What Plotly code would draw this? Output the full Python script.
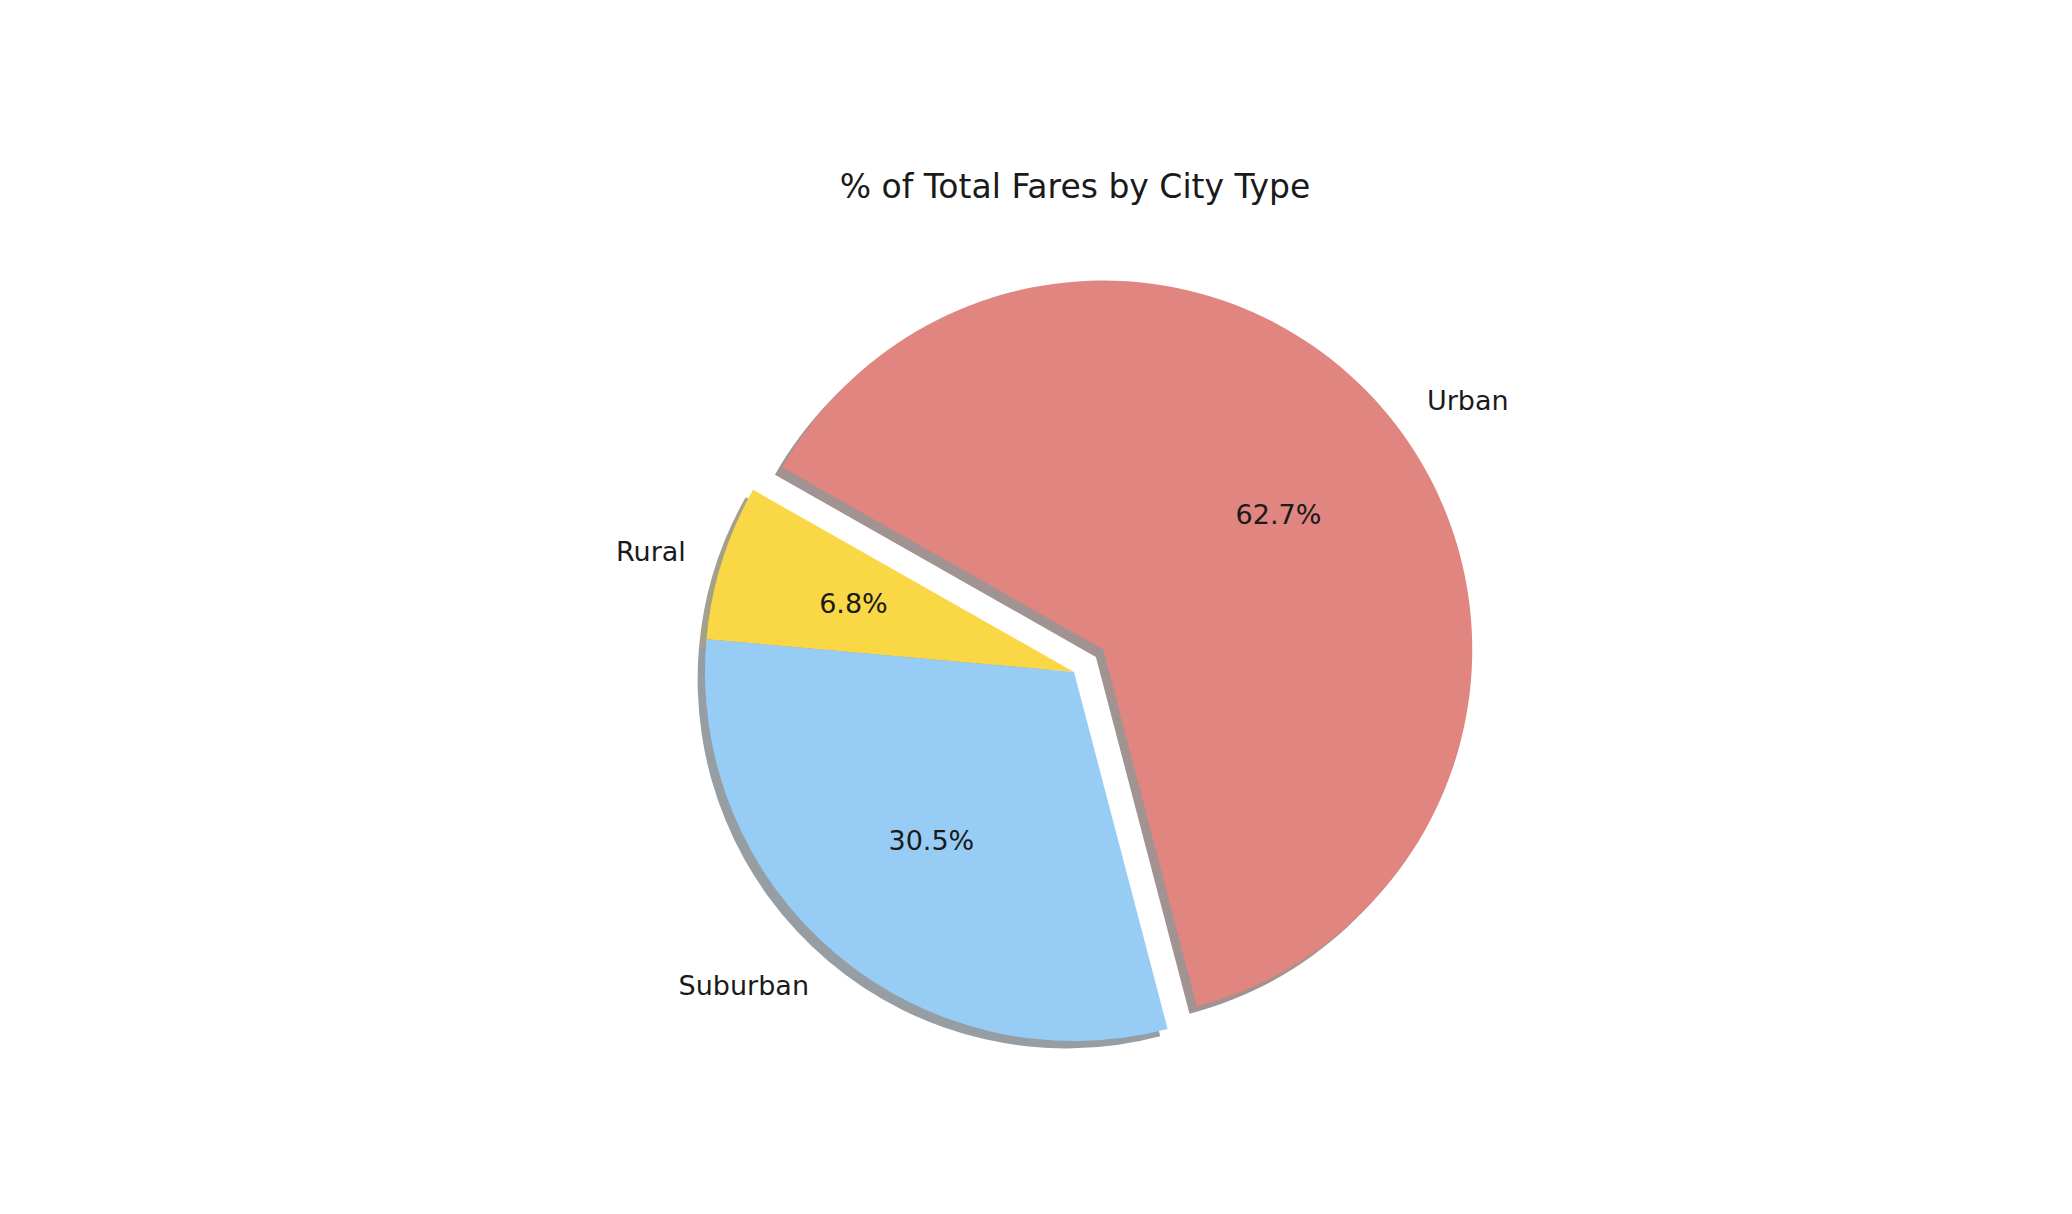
import plotly.graph_objects as go

city_types = ["Rural", "Suburban", "Urban"]
fare_pct = [6.8, 30.5, 62.7]
slice_colors = ["#F9D745", "#97CDF5", "#E08580"]
shadow_colors = ["rgba(75,65,21,0.5)", "rgba(45,62,74,0.5)", "rgba(67,40,38,0.5)"]
explode = [0, 0, 0.1]
rot = -84.9

W, H = 2072, 1214
cx, cy, r = 1066, 664, 369


def domain(radius, dx=0.0, dy=0.0):
    p = max(explode) * r / radius
    half = radius * (1 + p)
    return dict(x=[(cx + dx - half) / W, (cx + dx + half) / W],
                y=[1 - (cy + dy + half) / H, 1 - (cy + dy - half) / H])


def pulls(radius):
    return [e * r / radius for e in explode]


common = dict(labels=city_types, values=fare_pct, sort=False,
              direction="counterclockwise", rotation=rot, showlegend=False)
font = dict(family="DejaVu Sans", size=27, color="#1a1a1a")
clear = dict(colors=["rgba(0,0,0,0)"] * 3, line=dict(width=0))

fig = go.Figure()
# shadow
off = 0.02 * r
fig.add_trace(go.Pie(**common, pull=pulls(r),
                     marker=dict(colors=shadow_colors, line=dict(width=0)),
                     textinfo="none", hoverinfo="skip",
                     domain=domain(r, -off, off)))
# wedges
fig.add_trace(go.Pie(**common, pull=pulls(r),
                     marker=dict(colors=slice_colors, line=dict(width=0)),
                     textinfo="none", hovertemplate="%{label}: %{percent:.1%}<extra></extra>",
                     domain=domain(r)))
# category labels
rl = 1.08 * r
fig.add_trace(go.Pie(**common, pull=pulls(rl), marker=clear,
                     textinfo="label", textposition="outside", textfont=font,
                     hoverinfo="skip", domain=domain(rl)))
# percentage labels (centred at 0.6 r on a transparent ring)
rp_out, rp_in = 280, 162
fig.add_trace(go.Pie(**common, pull=pulls(rp_out), marker=clear, hole=rp_in / rp_out,
                     texttemplate="%{percent:.1%}", textposition="inside",
                     insidetextorientation="horizontal", textfont=font,
                     hoverinfo="skip", domain=domain(rp_out)))

fig.update_layout(
    width=W, height=H,
    margin=dict(l=0, r=0, t=0, b=0),
    paper_bgcolor="white", plot_bgcolor="white",
    title=dict(text="% of Total Fares by City Type", x=1067 / W, xanchor="center",
               y=1 - 178 / H, yanchor="middle",
               font=dict(family="DejaVu Sans", size=33, color="#1a1a1a")),
    showlegend=False,
)
fig.write_html("out.html")
